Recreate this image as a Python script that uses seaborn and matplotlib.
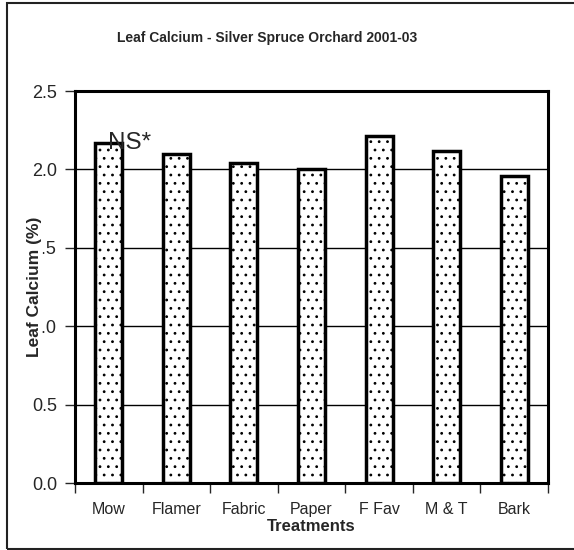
import matplotlib
matplotlib.use("Agg")
import matplotlib.pyplot as plt
from matplotlib.patches import Rectangle
import seaborn as sns
import pandas as pd

treatments = ["Mow", "Flamer", "Fabric", "Paper", "F Fav", "M & T", "Bark"]
calcium = [2.17, 2.10, 2.04, 2.00, 2.21, 2.12, 1.96]
y_ticks = [0.0, 0.5, 1.0, 1.5, 2.0, 2.5]

sns.set_style("white")
plt.rcParams["font.family"] = ["Liberation Sans", "DejaVu Sans"]
plt.rcParams["hatch.color"] = "#666666"
plt.rcParams["hatch.linewidth"] = 0.8

df = pd.DataFrame({"Treatments": treatments, "Calcium": calcium})

fig = plt.figure(figsize=(5.74, 5.5), dpi=100)
ax = fig.add_axes([75 / 574, 67 / 550, 473 / 574, 392 / 550])

sns.barplot(data=df, x="Treatments", y="Calcium", color="white",
            edgecolor="black", linewidth=2.5, width=0.4, ax=ax, zorder=3)
for p in ax.patches:
    p.set_hatch("..")
    p.set_facecolor("white")

ax.set_ylim(0, 2.5)
ax.set_xlim(-0.5, len(treatments) - 0.5)
ax.set_yticks(y_ticks)
ax.set_yticklabels([f"{v:.1f}" for v in y_ticks], fontsize=13)
ax.yaxis.grid(True, color="black", linewidth=1)
ax.set_axisbelow(True)
ax.tick_params(axis="y", length=7, width=1, pad=6, left=True)
ax.tick_params(axis="x", which="major", length=0, pad=14, labelsize=11.5)
ax.set_xticks([i + 0.5 for i in range(-1, len(treatments))], minor=True)
ax.tick_params(axis="x", which="minor", length=7, width=1, bottom=True)
for s in ax.spines.values():
    s.set_linewidth(2.2)
    s.set_color("black")

ax.set_xlabel("Treatments", fontsize=12, fontweight="bold", labelpad=1)
ax.set_ylabel("")
fig.text(35 / 574, 1 - 287 / 550, "Leaf Calcium (%)", rotation=90, fontsize=12.5,
         fontweight="bold", ha="center", va="center",
         bbox=dict(facecolor="white", edgecolor="none", pad=0))

ax.text(-0.01, 2.13, "NS*", fontsize=17.5, va="baseline", ha="left", zorder=5)

fig.text(267 / 574, 1 - 38 / 550, "Leaf Calcium - Silver Spruce Orchard 2001-03",
         fontsize=10, fontweight="bold", ha="center", va="center")

fig.patches.append(Rectangle((6.5 / 574, 1.5 / 550), 1.2, 546 / 550,
                             transform=fig.transFigure, fill=False,
                             edgecolor="#222222", linewidth=1.5))

fig.savefig("out.png", dpi=100)
